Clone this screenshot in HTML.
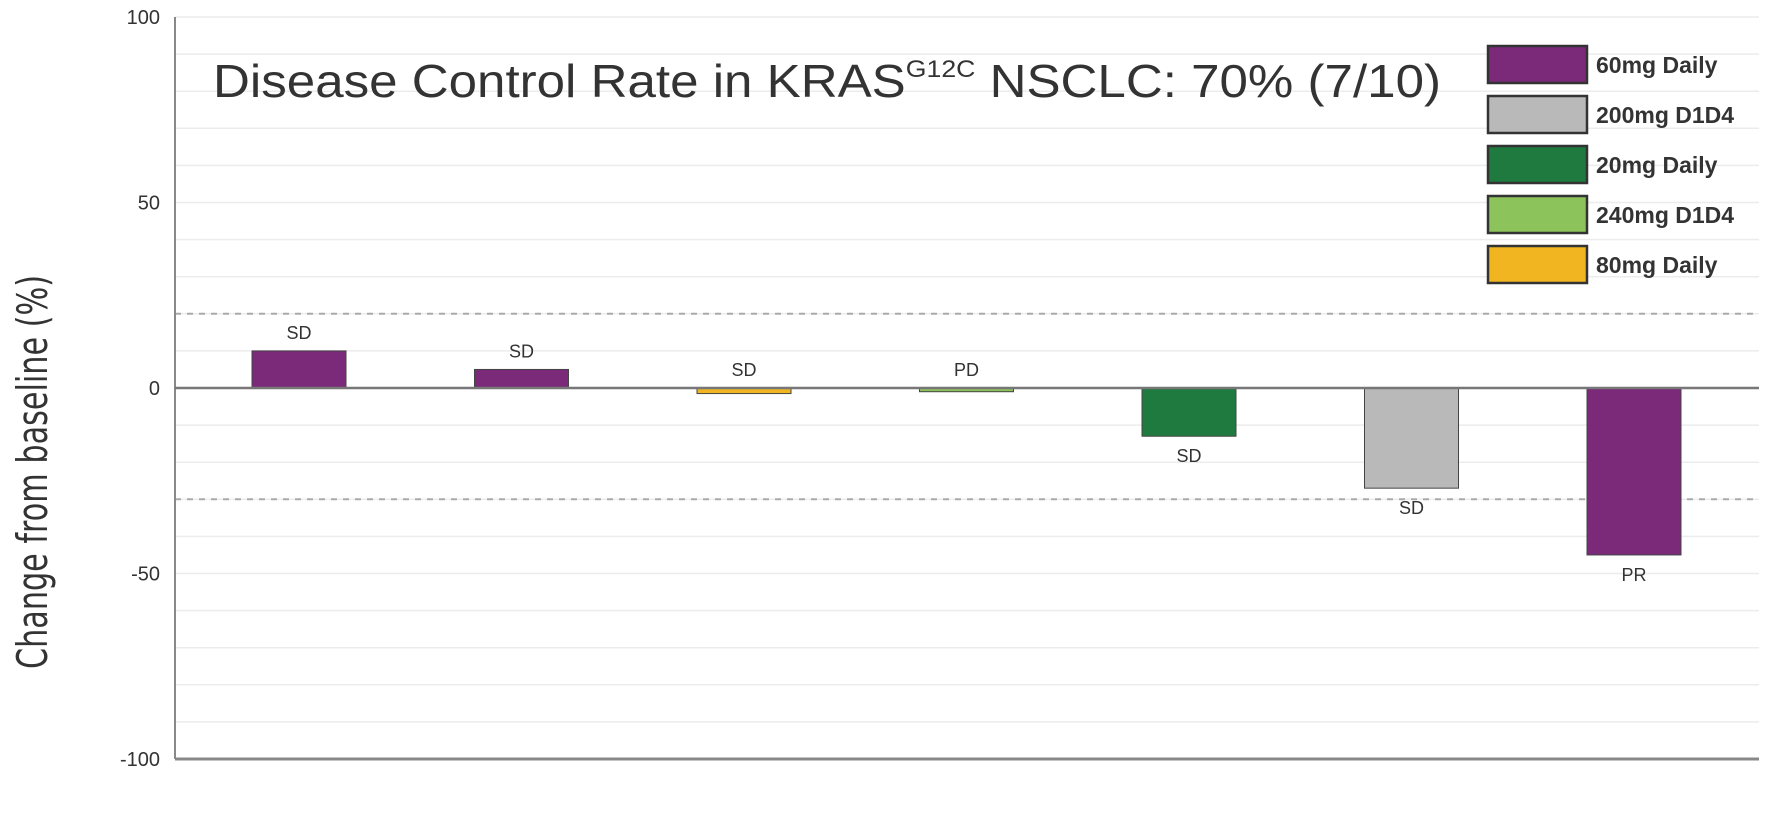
<!DOCTYPE html>
<html><head><meta charset="utf-8"><style>
html,body{margin:0;padding:0;background:#fff;}
svg{display:block;font-family:"Liberation Sans",sans-serif;}
</style></head><body>
<svg id="chart" width="1781" height="814"></svg>
<script>
const categories=["P1","P2","P3","P4","P5","P6","P7"];
const values=[10,5,-1.5,-1,-13,-27,-45];
const responses=["SD","SD","SD","PD","SD","SD","PR"];
const doses=["60mg Daily","60mg Daily","80mg Daily","240mg D1D4","20mg Daily","200mg D1D4","60mg Daily"];
const legendLabels=["60mg Daily","200mg D1D4","20mg Daily","240mg D1D4","80mg Daily"];
const legendColors=["#7b2a7a","#b9b9b9","#1e7a3e","#8dc35b","#f0b520"];
const yTicks=[100,50,0,-50,-100];
const refLines=[20,-30];
const NS="http://www.w3.org/2000/svg";
const svg=document.getElementById('chart');
const X0=175,X1=1759,Y_TOP=17,Y_BOT=759;
function y(v){return Y_TOP+(100-v)/200*(Y_BOT-Y_TOP);}
const step=222.5,first=299,bw=94;
function x(i){return first+i*step;}
function el(t,a,p){const e=document.createElementNS(NS,t);for(const k in a)e.setAttribute(k,a[k]);(p||svg).appendChild(e);return e;}
const colorOf=d=>legendColors[legendLabels.indexOf(d)];
for(let v=-90;v<=100;v+=10){
  if(v===0)continue;
  const g=el('line',{x1:X0,x2:X1,y1:y(v),y2:y(v),stroke:'#ececec','stroke-width':1.5});
  
  
}
refLines.forEach(v=>{
  const l=el('line',{x1:X0,x2:X1,y1:y(v),y2:y(v),stroke:'#aaa','stroke-width':2,'stroke-dasharray':'6,6'});
  
  
});
yTicks.forEach(v=>{
  const t=el('text',{x:160,y:y(v)+7,'text-anchor':'end','font-size':20,fill:'#333'});
  t.textContent=v;
  
  
});
const ax=el('line',{x1:X0,x2:X0,y1:Y_TOP,y2:Y_BOT,stroke:'#888','stroke-width':2});


const bx=el('line',{x1:X0,x2:X1,y1:Y_BOT,y2:Y_BOT,stroke:'#888','stroke-width':3});


values.forEach((v,i)=>{
  const top=Math.min(y(v),y(0)),h=Math.max(Math.abs(y(v)-y(0)),3);
  const r=el('rect',{x:x(i)-bw/2,y:top,width:bw,height:h,fill:colorOf(doses[i]),stroke:'#444','stroke-width':1});
  
  
  const above=v>-3;
  const ly=above?Math.min(y(v),y(0))-12:y(v)+26;
  const t=el('text',{x:x(i),y:ly,'text-anchor':'middle','font-size':18,fill:'#333'});
  t.textContent=responses[i];
  
  
});
const zl=el('line',{x1:X0,x2:X1,y1:y(0),y2:y(0),stroke:'#777','stroke-width':2.5});


legendLabels.forEach((lab,i)=>{
  const ty=46+i*50;
  const r=el('rect',{x:1488,y:ty,width:99,height:37,fill:legendColors[i],stroke:'#333','stroke-width':2.5});
  
  
  const t=el('text',{x:1596,y:ty+27,'font-size':23,'font-weight':'bold',fill:'#333'});
  t.textContent=lab;
  
  
});
</script>
<svg style="position:absolute;left:0;top:0" width="1781" height="814">
<text x="213" y="97" font-size="46" fill="#333" font-family="Liberation Sans, sans-serif" textLength="1228" lengthAdjust="spacingAndGlyphs">Disease Control Rate in KRAS<tspan font-size="24" dy="-20">G12C</tspan><tspan dy="20"> NSCLC: 70% (7/10)</tspan></text>
<text transform="translate(47,472) rotate(-90)" text-anchor="middle" font-size="42" fill="#333" font-family="DejaVu Sans, sans-serif" textLength="394" lengthAdjust="spacingAndGlyphs">Change from baseline (%)</text>
</svg>
</body></html>
